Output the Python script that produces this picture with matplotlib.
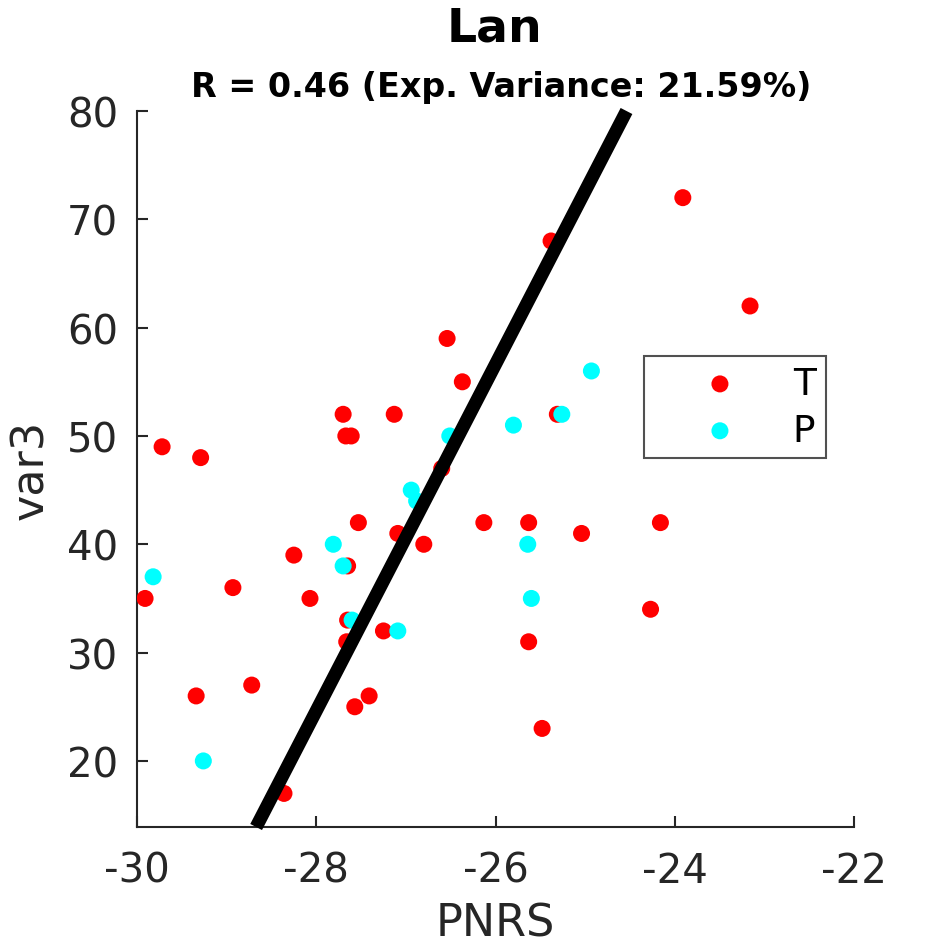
import numpy as np
import matplotlib
matplotlib.use("Agg")
import matplotlib.pyplot as plt

plt.rcParams['font.family'] = ['DejaVu Sans']
plt.rcParams['axes.unicode_minus'] = False

title = "Lan"
subtitle = "R = 0.46 (Exp. Variance: 21.59%)"
xlabel = "PNRS"
ylabel = "var3"

t_x = [-29.91, -29.72, -29.29, -29.34, -28.93, -28.72, -28.25, -28.07, -28.36, -27.70,
       -27.67, -27.61, -27.65, -27.65, -27.66, -27.57, -27.41, -27.53, -27.25, -27.13,
       -27.09, -26.80, -26.60, -26.54, -26.37, -26.13, -25.63, -25.63, -25.48, -25.38,
       -25.31, -25.04, -24.27, -24.16, -23.91, -23.16]
t_y = [35, 49, 48, 26, 36, 27, 39, 35, 17, 52,
       50, 50, 38, 33, 31, 25, 26, 42, 32, 52,
       41, 40, 47, 59, 55, 42, 42, 31, 23, 68,
       52, 41, 34, 42, 72, 62]

p_x = [-29.82, -29.26, -27.81, -27.70, -27.60, -27.09, -26.94, -26.88, -26.51, -25.80,
       -25.64, -25.60, -25.26, -24.93]
p_y = [37, 20, 40, 38, 33, 32, 45, 44, 50, 51,
       40, 35, 52, 56]

xlim = (-30, -22)
ylim = (13.9, 80)
xticks = [-30, -28, -26, -24, -22]
yticks = [20, 30, 40, 50, 60, 70, 80]

fig = plt.figure(figsize=(9.45, 9.45), dpi=100)
ax = fig.add_axes([137/945, 1-828/945, (854-137)/945, (828-112)/945])

ax.scatter(t_x, t_y, s=150, c='#ff0000', edgecolors='none', label='T', zorder=3)
ax.scatter(p_x, p_y, s=150, c='#00ffff', edgecolors='none', label='P', zorder=3)

# regression of x on y (all points)
all_x = np.array(t_x + p_x)
all_y = np.array(t_y + p_y)
b, a = np.polyfit(all_y, all_x, 1)
yy = np.array(ylim)
ax.plot(a + b*yy, yy, color='black', lw=9.5, solid_capstyle='butt', zorder=4, clip_on=False)

ax.set_xlim(*xlim)
ax.set_ylim(*ylim)
ax.set_xticks(xticks)
ax.set_yticks(yticks)
for s in ['top', 'right']:
    ax.spines[s].set_visible(False)
for s in ['left', 'bottom']:
    ax.spines[s].set_color('#262626')
    ax.spines[s].set_linewidth(1.5)
ax.tick_params(direction='in', length=8, width=1.5, colors='#262626', labelsize=29)
ax.tick_params(axis='x', pad=17)
ax.tick_params(axis='y', pad=13.5)
ax.set_xlabel(xlabel, fontsize=32, color='#262626', labelpad=8)
ax.set_ylabel(ylabel, fontsize=32, color='#262626', labelpad=11)

fig.text(495/945, 1-29/945, title, ha='center', va='center', fontsize=34, fontweight='bold')
fig.text(501/945, 1-87/945, subtitle, ha='center', va='center', fontsize=24, fontweight='bold')

leg = ax.legend(loc='upper left', bbox_to_anchor=((644-137)/717, (828-357)/716),
                borderaxespad=0, fontsize=27, frameon=True, fancybox=False,
                handlelength=3.53, handletextpad=0.18, labelspacing=0.29, borderpad=0.26,
                markerscale=1.0)
leg.get_frame().set_edgecolor('#262626')
leg.get_frame().set_linewidth(1.5)

fig.savefig('out.png', dpi=100)
